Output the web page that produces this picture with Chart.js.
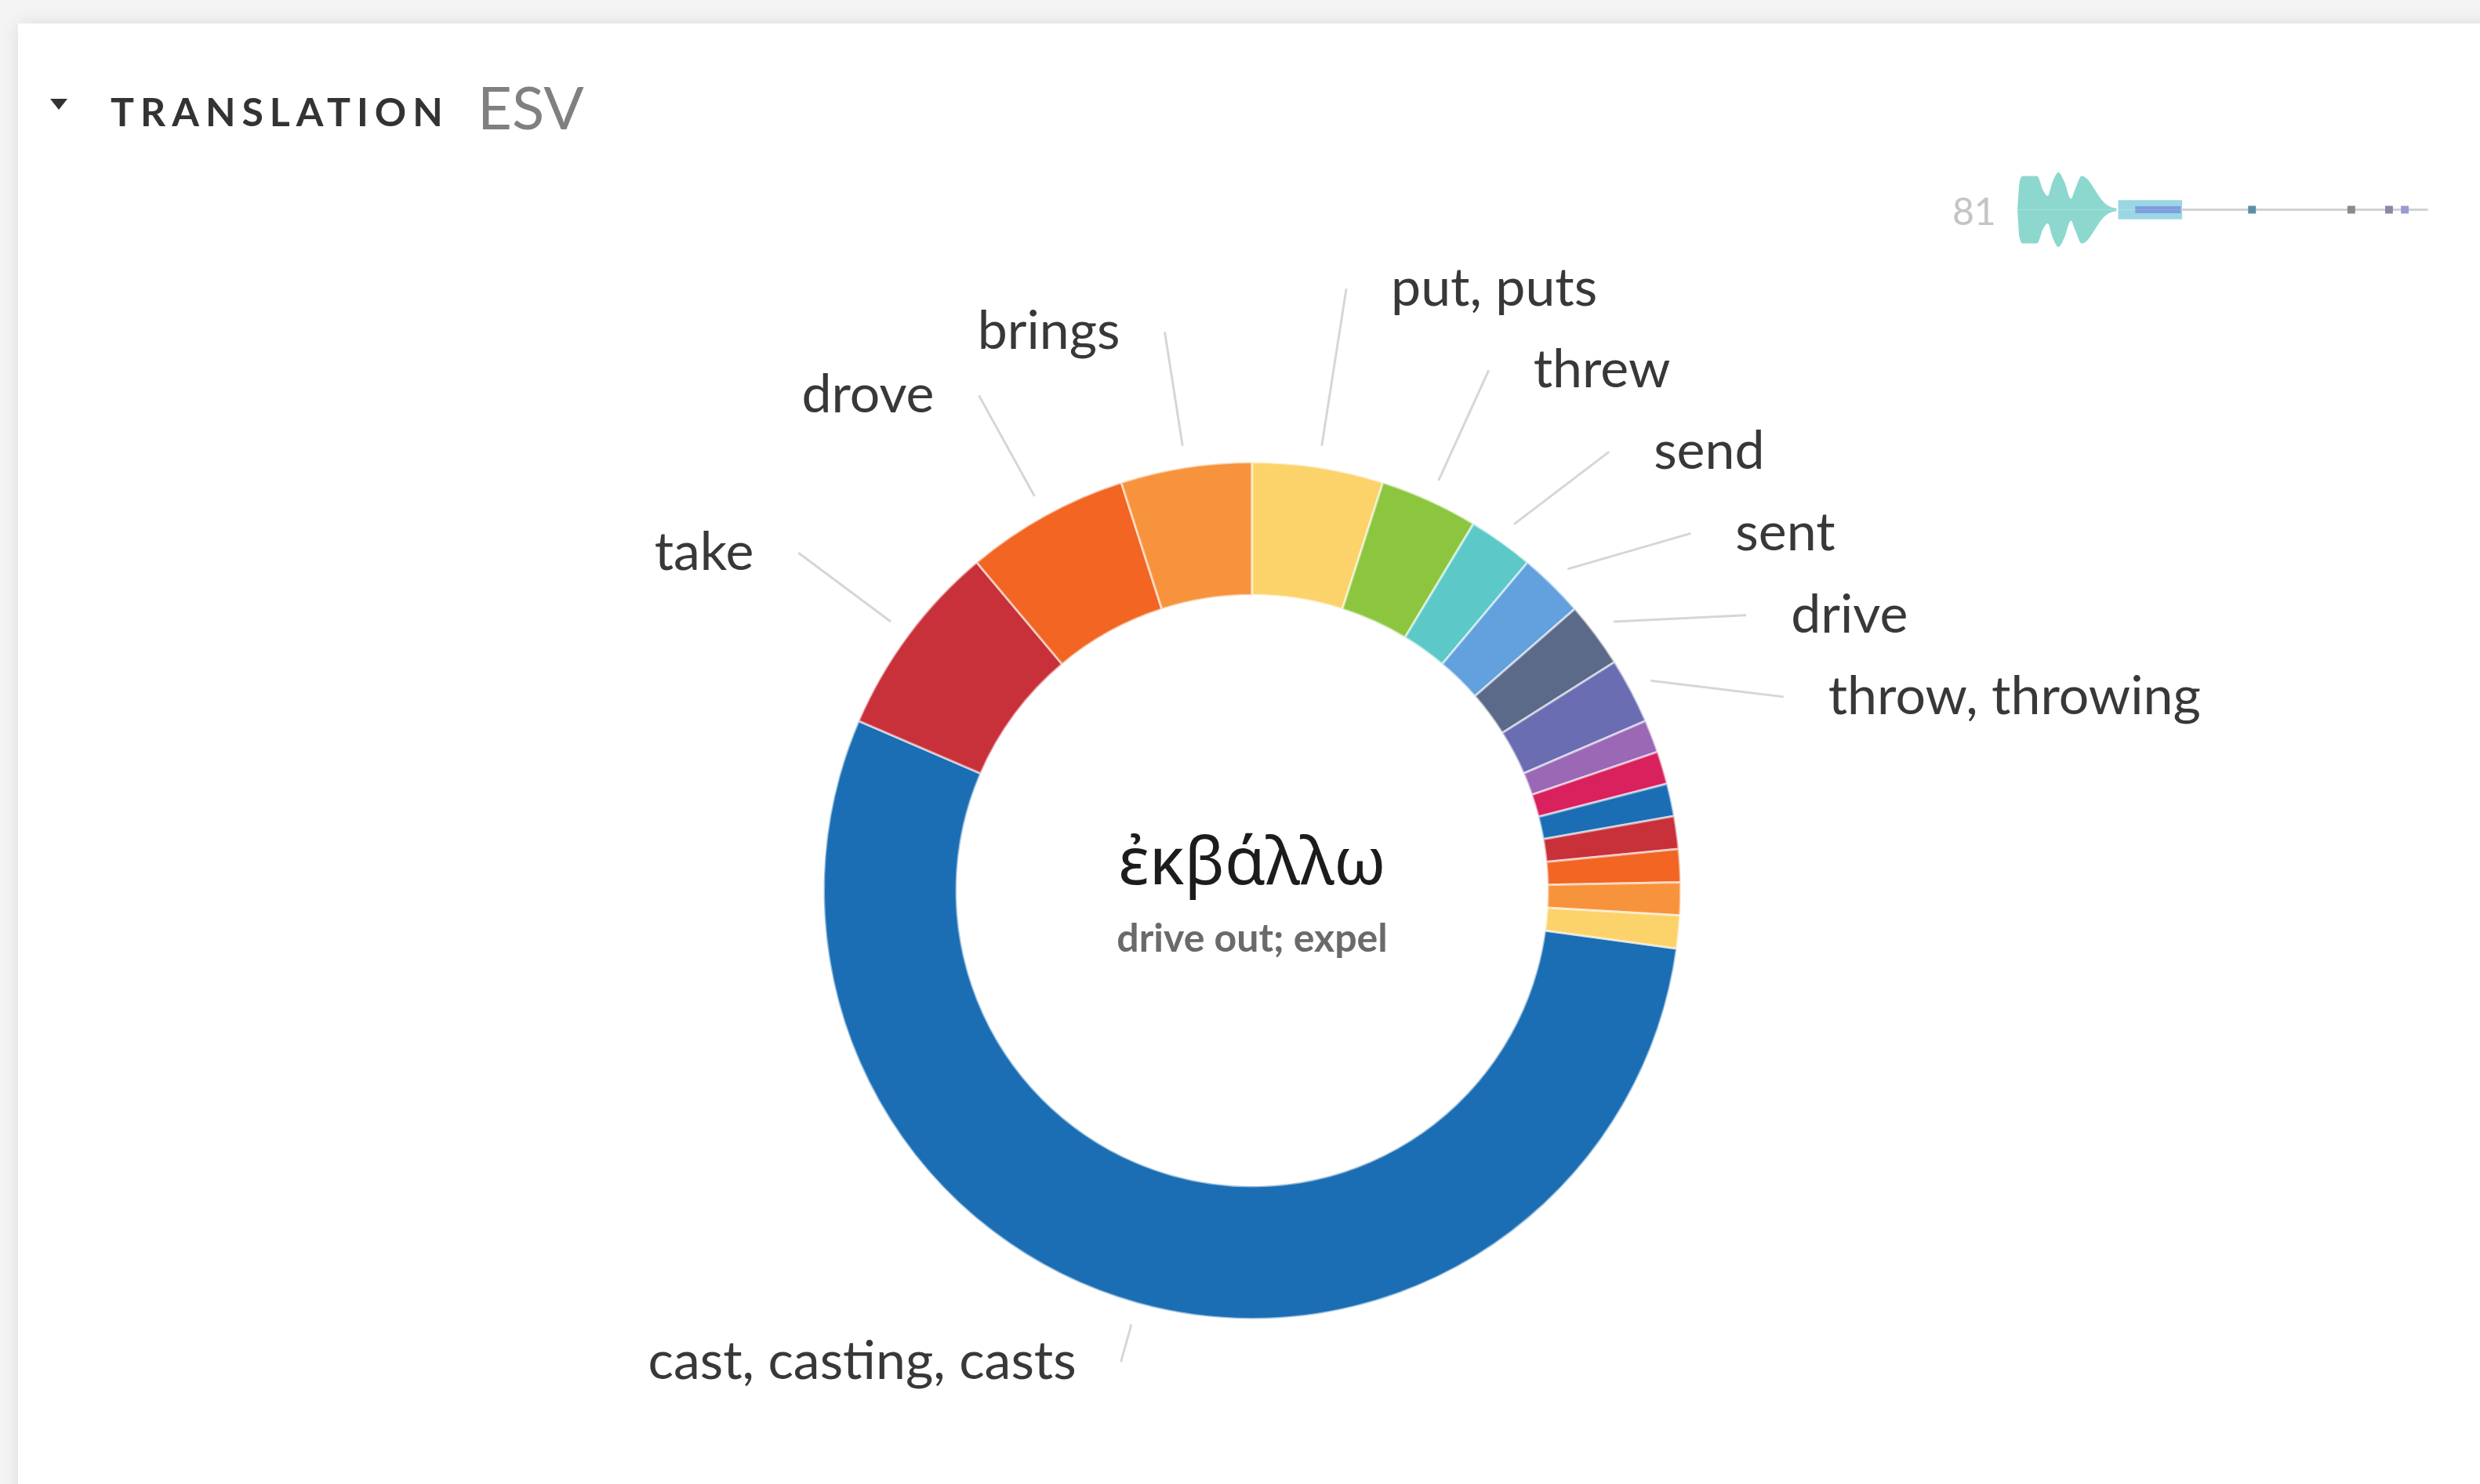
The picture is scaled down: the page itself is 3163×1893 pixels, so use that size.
<!DOCTYPE html>
<html>
<head>
<meta charset="utf-8">
<script src="https://cdn.jsdelivr.net/npm/chart.js@4.4.1/dist/chart.umd.min.js"></script>
<style>
  html, body { margin: 0; padding: 0; }
  body { width: 3163px; height: 1893px; background: #f4f4f4; position: relative; overflow: hidden; font-family: Lato, "Noto Sans", sans-serif; }
  .card { position: absolute; left: 23px; top: 30px; right: -40px; bottom: -40px; background: #fff; box-shadow: 0 0 22px rgba(0,0,0,0.10); }
  .caret { position: absolute; left: 64px; top: 126px; width: 0; height: 0; border-left: 11px solid transparent; border-right: 11px solid transparent; border-top: 14px solid #333; }
  .title { position: absolute; left: 141px; top: 117px; font-size: 50px; line-height: 1; font-weight: 700; letter-spacing: 8px; color: #333; }
  .version { position: absolute; left: 609px; top: 98px; font-size: 76px; line-height: 1; color: #808080; }
  .total { position: absolute; left: 2490px; top: 245px; font-size: 48px; line-height: 1; color: #c4c4c4; }
  #donut { position: absolute; left: 0; top: 0; }
  #mini { position: absolute; left: 2560px; top: 210px; }
</style>
</head>
<body>
<div class="card"></div>
<div class="caret"></div>
<div class="title">TRANSLATION</div>
<div class="version">ESV</div>
<div class="total" id="total"></div>
<canvas id="donut" width="3163" height="1893"></canvas>
<canvas id="mini" width="560" height="115"></canvas>
<script>
document.addEventListener('DOMContentLoaded', function() {
    // 译名与出现次数
    const translations = ['cast, casting, casts', 'take', 'drove', 'brings', 'put, puts', 'threw',
        'send', 'sent', 'drive', 'throw, throwing', 'bring out', 'driven out', 'drives out',
        'leave out', 'pluck out', 'sending out', 'took out'];
    const counts = [44, 6, 5, 4, 4, 3, 2, 2, 2, 2, 1, 1, 1, 1, 1, 1, 1];
    const palette = ['#1b6eb4', '#c8313a', '#f26522', '#f7933c', '#fcd36b', '#8cc63f',
        '#5cc9c8', '#62a0de', '#5a6a88', '#6a6db2', '#9b68b6', '#d8215d'];
    const lemma = 'ἐκβάλλω';
    const gloss = 'drive out; expel';

    // 小提琴图（出现分布）
    const violinX = [1.1, 1.6, 2.5, 5.7, 7.1, 8.2, 9.3, 10.7, 12.1, 13.6, 14.6, 16.1, 17.5, 19.3, 21.1, 22.9, 24.3];
    const violinWidth = [0, 40, 49, 49, 28, 20, 40, 54, 40, 16, 30, 49, 44, 28, 12, 4, 2];
    const boxX = [24.6, 39.6];
    const boxWidth = 14;
    const medianX = [28.6, 39.3];
    const medianWidth = 5;
    const whiskerX = [39.6, 97];
    const outlierX = [55.9, 79.1, 87.9, 91.6];

    const total = counts.reduce((a, b) => a + b, 0);
    document.getElementById('total').textContent = total;

    // 让 "put, puts" 从正上方开始
    const before = counts.slice(0, translations.indexOf('put, puts')).reduce((a, b) => a + b, 0);
    const rotation = -360 * before / total;

    const labelFont = '68px Lato';
    const labelPlugin = {
        id: 'sliceLabels',
        afterDraw(chart) {
            const ctx = chart.ctx;
            const arcs = chart.getDatasetMeta(0).data;
            const cx = arcs[0].x, cy = arcs[0].y, rOut = arcs[0].outerRadius;
            const rStart = rOut + 28, rEnd = rOut * 1.32;
            const yMax = cy + rOut * 1.1;
            const gap = 57, boxH = 104;

            ctx.save();
            ctx.font = labelFont;
            const items = [];
            arcs.forEach((arc, i) => {
                if (counts[i] < 2) return;
                const mid = (arc.startAngle + arc.endAngle) / 2;
                const c = Math.cos(mid), s = Math.sin(mid);
                let r = rEnd;
                if (cy + r * s > yMax) r = (yMax - cy) / s;
                items.push({
                    text: translations[i], c, s, right: c >= 0,
                    sx: cx + rStart * c, sy: cy + rStart * s,
                    ex: cx + r * c, ey: cy + r * s,
                    w: ctx.measureText(translations[i]).width
                });
            });

            function placeX(it) {
                const dy = it.ey - cy;
                const circ = Math.sqrt(Math.max(rEnd * rEnd - dy * dy, 0));
                const ray = Math.abs(it.s) > 0.01 ? Math.abs(dy * it.c / it.s) : circ;
                it.ex = cx + (it.right ? 1 : -1) * Math.max(circ, ray);
            }
            function span(it) {
                const x0 = it.right ? it.ex + gap : it.ex - gap - it.w;
                return [x0, x0 + it.w];
            }

            // 标签防重叠
            for (let iter = 0; iter < 400; iter++) {
                let moved = false;
                for (let i = 0; i < items.length; i++) {
                    for (let j = i + 1; j < items.length; j++) {
                        const a = items[i], b = items[j];
                        if (a.right !== b.right) continue;
                        const sa = span(a), sb = span(b);
                        if (!(sa[0] < sb[1] && sb[0] < sa[1])) continue;
                        const d = Math.abs(a.ey - b.ey);
                        if (d >= boxH) continue;
                        const ov = boxH - d;
                        const upper = a.ey <= b.ey ? a : b;
                        const lower = upper === a ? b : a;
                        upper.ey -= ov * 0.4 + 0.2;
                        lower.ey += ov * 0.6 + 0.2;
                        placeX(upper);
                        placeX(lower);
                        moved = true;
                    }
                }
                if (!moved) break;
            }

            ctx.strokeStyle = '#d6d6d6';
            ctx.lineWidth = 3;
            items.forEach(it => {
                ctx.beginPath();
                ctx.moveTo(it.sx, it.sy);
                ctx.lineTo(it.ex, it.ey);
                ctx.stroke();
            });

            ctx.fillStyle = '#383838';
            ctx.textBaseline = 'middle';
            items.forEach(it => {
                ctx.textAlign = it.right ? 'left' : 'right';
                ctx.fillText(it.text, it.right ? it.ex + gap : it.ex - gap, it.ey);
            });

            // 中心文字
            ctx.textAlign = 'center';
            ctx.fillStyle = '#1c1c1c';
            ctx.font = '84px "Noto Sans"';
            ctx.fillText(lemma, cx, cy - 32);
            ctx.fillStyle = '#6a6a6a';
            ctx.font = 'bold 50px Lato';
            ctx.fillText(gloss, cx, cy + 62);
            ctx.restore();
        }
    };

    new Chart(document.getElementById('donut'), {
        type: 'doughnut',
        data: {
            labels: translations,
            datasets: [{
                data: counts,
                backgroundColor: counts.map((_, i) => palette[i % palette.length]),
                borderColor: 'rgba(255, 255, 255, 0.55)',
                borderWidth: 3
            }]
        },
        options: {
            responsive: false,
            devicePixelRatio: 1,
            animation: false,
            rotation: rotation,
            cutout: '69%',
            layout: { padding: { left: 1049, right: 1018, top: 588, bottom: 209 } },
            plugins: { legend: { display: false }, tooltip: { enabled: false } }
        },
        plugins: [labelPlugin]
    });

    // 右上角的小分布图
    const pts = (xs, ys, sign) => xs.map((x, i) => ({ x: x, y: sign * (Array.isArray(ys) ? ys[i] : ys) }));
    const band = (xs, half, color, order) => [1, -1].map(sign => ({
        data: pts(xs, half, sign), fill: 'origin', backgroundColor: color,
        borderWidth: 0, pointRadius: 0, order: order
    }));

    new Chart(document.getElementById('mini'), {
        type: 'line',
        data: {
            datasets: [
                ...[1, -1].map(sign => ({
                    data: pts(violinX, violinWidth, sign), fill: 'origin',
                    backgroundColor: 'rgba(128, 212, 202, 0.9)', borderWidth: 0,
                    pointRadius: 0, tension: 0.35, cubicInterpolationMode: 'monotone', order: 3
                })),
                ...band(boxX, boxWidth, 'rgba(150, 212, 226, 0.95)', 5),
                ...band(medianX, medianWidth, '#7d9fdf', 4),
                {
                    data: pts(whiskerX, 0, 1), borderColor: '#d2d2d2', borderWidth: 3,
                    pointRadius: 0, fill: false, order: 10
                },
                {
                    data: pts(outlierX, 0, 1), showLine: false, pointStyle: 'rect', pointRadius: 7,
                    pointBorderWidth: 0,
                    pointBackgroundColor: ['#5b8fa6', '#8a8a92', '#8a88a6', '#9c9ad2'], order: 1
                }
            ]
        },
        options: {
            responsive: false,
            devicePixelRatio: 1,
            animation: false,
            layout: { padding: 0 },
            scales: {
                x: { type: 'linear', min: 0, max: 100, display: false },
                y: { min: -57.5, max: 57.5, display: false }
            },
            plugins: { legend: { display: false }, tooltip: { enabled: false } }
        }
    });
});
</script>
</body>
</html>
